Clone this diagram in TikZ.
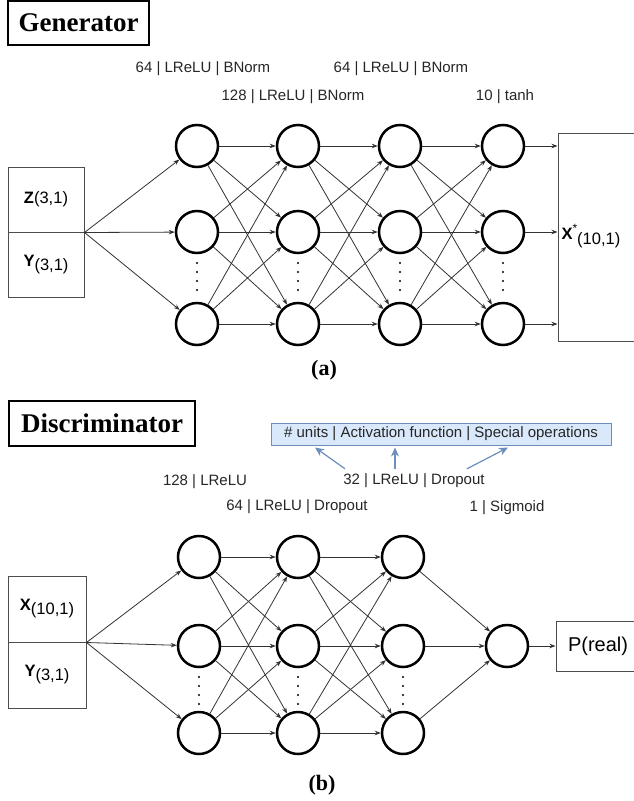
\documentclass[tikz,border=0pt]{standalone}
\usepackage{fontspec}
\setmainfont{Liberation Serif}
\newfontfamily\lsans{Liberation Sans}
\usetikzlibrary{arrows.meta,calc}
\definecolor{bluefill}{HTML}{DAE8FC}
\definecolor{blueline}{HTML}{6C8EBF}
\tikzset{
 neuron/.style={circle,draw=black,line width=2.5pt,minimum size=42pt,inner sep=0pt},
 conn/.style={draw=black!80,line width=0.8pt,-{Stealth[length=6pt,width=4.5pt]}},
 lbl/.style={font=\lsans\fontsize{15}{18}\selectfont,text=black!85,inner sep=0pt},
 titlebox/.style={draw=black,line width=1.8pt,font=\bfseries\fontsize{27}{30}\selectfont,inner sep=0pt},
 iobox/.style={draw=black!70,line width=1pt,inner sep=0pt,font=\lsans\fontsize{16.5}{19}\selectfont},
 capt/.style={font=\bfseries\fontsize{22}{24}\selectfont,inner sep=0pt},
 bluearr/.style={draw=blueline,line width=1.2pt,-{Stealth[length=9pt,width=8pt]}},
 dotmark/.style={circle,fill=black,inner sep=0pt,minimum size=2.4pt},
}
\begin{document}
\begin{tikzpicture}[x=1pt,y=-1pt]
\useasboundingbox (0,0) rectangle (634,801);
\clip (0,0) rectangle (634,801);
\fill[white] (0,0) rectangle (634,801);

% ---------------- Generator ----------------
\node[titlebox,minimum width=141pt,minimum height=44pt] (gtitle) at (78.5,23) {Generator};

\node[lbl] (gl1) at (203,69) {64 | LReLU | BNorm};
\node[lbl] (gl2) at (293,97) {128 | LReLU | BNorm};
\node[lbl] (gl3) at (401,69) {64 | LReLU | BNorm};
\node[lbl] (gl4) at (505,97) {10 | tanh};

\node[iobox,minimum width=76pt,minimum height=65pt] (gz) at (46,199.5) {{\bfseries Z}(3,1)};
\node[iobox,minimum width=76pt,minimum height=65pt] (gy) at (46,264.5) {{\bfseries Y}\raisebox{-4pt}{(3,1)}};

\foreach \l/\x in {1/197,2/298,3/400,4/503}{
  \foreach \r/\y in {1/146,2/232,3/324}{
    \node[neuron] (g\l\r) at (\x,\y) {};
  }
  \foreach \y in {263,272,281,290}{
    \node[dotmark] at (\x,\y) {};
  }
}

\node[iobox,minimum width=82pt,minimum height=208pt] (gout) at (599,237) {};
\node[iobox,draw=none,anchor=west] (xlab) at (561,236) {{\bfseries X}\raisebox{7pt}{\fontsize{12}{12}\selectfont *}\raisebox{-5pt}{(10,1)}};

\foreach \j in {1,2,3}{
  \draw[conn] (gz.south east) -- (g1\j);
  \draw[conn] (g4\j) -- (g4\j -| gout.west);
}
\foreach \a/\b in {1/2,2/3,3/4}{
  \foreach \i in {1,2,3}{
    \foreach \j in {1,2,3}{
      \draw[conn] (g\a\i) -- (g\b\j);
    }
  }
}

\node[capt] (capa) at (324,370) {(a)};

% ---------------- Discriminator ----------------
\node[titlebox,minimum width=186pt,minimum height=45pt] (dtitle) at (102,423.5) {Discriminator};

\node[draw=blueline,fill=bluefill,line width=1pt,minimum width=340pt,minimum height=22pt,inner sep=0pt,font=\lsans\fontsize{15}{18}\selectfont,text=black!85] (info) at (441,434) {\# units | Activation function | Special operations};

\node[lbl] (dl1) at (205,482) {128 | LReLU};
\node[lbl] (dl2) at (297,507) {64 | LReLU | Dropout};
\node[lbl] (dl3) at (414,481) {32 | LReLU | Dropout};
\node[lbl] (dl4) at (507,508) {1 | Sigmoid};

\draw[bluearr] ([xshift=-69pt,yshift=5pt]dl3.north) -- ([xshift=-126pt,yshift=-2pt]info.south);
\draw[bluearr] ([xshift=-19pt,yshift=5pt]dl3.north) -- ([xshift=-46pt,yshift=-2pt]info.south);
\draw[bluearr] ([xshift=53pt,yshift=5pt]dl3.north) -- ([xshift=67pt,yshift=-2pt]info.south);

\node[iobox,minimum width=78pt,minimum height=66pt] (dx) at (47,609) {{\bfseries X}\raisebox{-4pt}{(10,1)}};
\node[iobox,minimum width=78pt,minimum height=66pt] (dy) at (47,675) {{\bfseries Y}\raisebox{-4pt}{(3,1)}};

\foreach \l/\x in {1/199,2/298,3/403}{
  \foreach \r/\y in {1/557,2/646,3/733}{
    \node[neuron] (d\l\r) at (\x,\y) {};
  }
  \foreach \y in {677,686,695,704}{
    \node[dotmark] at (\x,\y) {};
  }
}
\node[neuron] (dout) at (507,646) {};
\node[iobox,minimum width=84pt,minimum height=50pt,font=\lsans\fontsize{20}{24}\selectfont] (preal) at (598,646) {P(real)};

\foreach \j in {1,2,3}{
  \draw[conn] (dx.south east) -- (d1\j);
  \draw[conn] (d3\j) -- (dout);
}
\foreach \a/\b in {1/2,2/3}{
  \foreach \i in {1,2,3}{
    \foreach \j in {1,2,3}{
      \draw[conn] (d\a\i) -- (d\b\j);
    }
  }
}
\draw[conn] (dout) -- (preal);

\node[capt] (capb) at (322,785) {(b)};
\end{tikzpicture}
\end{document}
